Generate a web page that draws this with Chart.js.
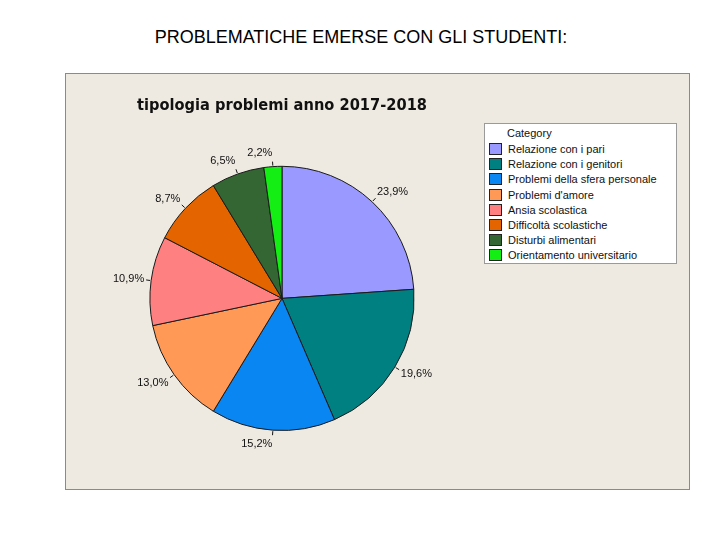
<!DOCTYPE html>
<html>
<head>
<meta charset="utf-8">
<script src="https://cdn.jsdelivr.net/npm/chart.js@4"></script>
<style>
  body { margin: 0; background: #fff; width: 720px; height: 540px; position: relative; overflow: hidden; }
  #pageTitle { position: absolute; left: 0; width: 722px; top: 27px; text-align: center;
    font-family: "Liberation Sans", Arial, sans-serif; font-size: 18px; color: #000; }
  #panel { position: absolute; left: 65px; top: 73px; width: 623px; height: 415px;
    border: 1px solid #8a8a8a; background: #eeeae1; }
  #legend { position: absolute; left: 484px; top: 123px; width: 191px; height: 139px;
    border: 1px solid #9a9a9a; background: #fff; font-family: "Liberation Sans", Arial, sans-serif;
    font-size: 11px; color: #111; }
  #legend .head { position: absolute; left: 22px; top: 3px; }
  #legend .row { position: absolute; left: 4px; height: 14px; line-height: 13px; white-space: nowrap; }
  #legend .sw { display: inline-block; width: 11px; height: 10px; border: 1px solid #222; vertical-align: -2px; margin-right: 6px; }
</style>
</head>
<body>
<div id="pageTitle">PROBLEMATICHE EMERSE CON GLI STUDENTI:</div>
<div id="panel"><canvas id="myChart" width="623" height="415"></canvas></div>
<div id="legend"><div class="head">Category</div></div>
<script>
var categories = ["Relazione con i pari", "Relazione con i genitori", "Problemi della sfera personale",
  "Problemi d'amore", "Ansia scolastica", "Difficoltà scolastiche", "Disturbi alimentari", "Orientamento universitario"];
var percentages = [23.9, 19.6, 15.2, 13.0, 10.9, 8.7, 6.5, 2.2];
var colors = ["#9999ff", "#008080", "#0a86f2", "#ff9955", "#ff8080", "#e46400", "#336633", "#14ee14"];

// html legend
var legend = document.getElementById('legend');
categories.forEach(function (c, i) {
  var row = document.createElement('div');
  row.className = 'row';
  row.style.top = (19 + i * 15.2) + 'px';
  row.innerHTML = '<span class="sw" style="background:' + colors[i] + '"></span>' + c;
  legend.appendChild(row);
});

var outsideLabels = {
  id: 'outsideLabels',
  afterDatasetsDraw: function (chart) {
    var ctx = chart.ctx;
    var arcs = chart.getDatasetMeta(0).data;
    ctx.save();
    ctx.font = '11px "Liberation Sans", Arial, sans-serif';
    ctx.fillStyle = '#111';
    ctx.strokeStyle = '#111';
    ctx.lineWidth = 1;
    ctx.textBaseline = 'middle';
    arcs.forEach(function (arc, i) {
      var mid = (arc.startAngle + arc.endAngle) / 2;
      var r = arc.outerRadius;
      var c = Math.cos(mid), s = Math.sin(mid);
      ctx.beginPath();
      ctx.moveTo(arc.x + c * (r + 1), arc.y + s * (r + 1));
      ctx.lineTo(arc.x + c * (r + 5), arc.y + s * (r + 5));
      ctx.stroke();
      var px = arc.x + c * (r + 7), py = arc.y + s * (r + 7);
      ctx.textAlign = c >= 0 ? 'left' : 'right';
      var txt = percentages[i].toFixed(1).replace('.', ',') + '%';
      ctx.fillText(txt, px, py + s * 7);
    });
    ctx.restore();
  }
};

var ctx = document.getElementById('myChart').getContext('2d');
var myChart = new Chart(ctx, {
  type: 'pie',
  data: {
    labels: categories,
    datasets: [{
      data: percentages,
      backgroundColor: colors,
      borderColor: '#1a1a1a',
      borderWidth: 1
    }]
  },
  options: {
    responsive: false,
    animation: false,
    layout: { padding: { left: 71, right: 262, top: 23, bottom: 58 } },
    plugins: {
      legend: { display: false },
      tooltip: { enabled: false },
      title: {
        display: true,
        text: 'tipologia problemi anno 2017-2018',
        align: 'start',
        color: '#111',
        font: { family: '"DejaVu Sans", Verdana, sans-serif', size: 15, weight: 'bold' },
        padding: { top: 0, bottom: 50.8 }
      }
    }
  },
  plugins: [outsideLabels]
});
</script>
</body>
</html>
